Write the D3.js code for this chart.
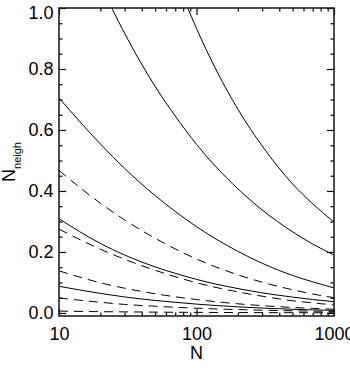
<!DOCTYPE html>
<html>
<head>
<meta charset="utf-8">
<script src="https://cdn.jsdelivr.net/npm/d3@7"></script>
<style>
  body { margin: 0; background: #fff; }
  svg { display: block; }
  text { font-family: "Liberation Sans", Arial, sans-serif; fill: #000; }
</style>
</head>
<body>
<div id="chart"></div>
<script>
// values (N on a log axis)
const nValues = [10, 20, 30, 50, 70, 100, 200, 300, 500, 700, 1000];

const solidA = [1.41, 1.079, 0.917, 0.743, 0.646, 0.553, 0.407, 0.338, 0.266, 0.226, 0.19];
const solidB = [2.64, 1.953, 1.628, 1.289, 1.103, 0.933, 0.668, 0.548, 0.423, 0.358, 0.298];
const solidC = [0.705, 0.554, 0.474, 0.385, 0.333, 0.283, 0.202, 0.163, 0.123, 0.102, 0.082];
const solidD = [0.309, 0.228, 0.19, 0.151, 0.13, 0.11, 0.08, 0.066, 0.052, 0.044, 0.037];
const solidE = [0.0875, 0.064, 0.0525, 0.041, 0.035, 0.029, 0.02, 0.016, 0.012, 0.010, 0.0084];

const dashA = [0.467, 0.36, 0.305, 0.245, 0.21, 0.177, 0.125, 0.101, 0.076, 0.062, 0.05];
const dashB = [0.275, 0.209, 0.176, 0.14, 0.119, 0.099, 0.069, 0.055, 0.04, 0.033, 0.026];
const dashC = [0.138, 0.099, 0.081, 0.063, 0.053, 0.044, 0.03, 0.024, 0.018, 0.015, 0.012];
const dashD = [0.049, 0.035, 0.028, 0.022, 0.0185, 0.0155, 0.011, 0.009, 0.007, 0.006, 0.005];
const dashE = [0.006, 0.0042, 0.0035, 0.0027, 0.0023, 0.0019, 0.0013, 0.0011, 0.0009, 0.0007, 0.0006];

const solidSeries = [solidA, solidB, solidC, solidD, solidE];
const dashSeries = [dashA, dashB, dashC, dashD, dashE];

const yMajor = [0, 0.2, 0.4, 0.6, 0.8, 1.0];
const xMajor = [10, 100, 1000];

// plot box
const margin = { top: 8, right: 16, bottom: 52, left: 59 };
const width = 350 - margin.left - margin.right;
const height = 368 - margin.top - margin.bottom;

const svg = d3.select("#chart")
  .append("svg")
  .attr("width", 350)
  .attr("height", 368);

const g = svg.append("g")
  .attr("transform", "translate(" + margin.left + "," + margin.top + ")");

const x = d3.scaleLog().domain([10, 1000]).range([0, width]);
const y = d3.scaleLinear().domain([-0.01, 1.0]).range([height, 0]);

g.append("clipPath").attr("id", "clip")
  .append("rect").attr("width", width).attr("height", height);

const line = d3.line()
  .x(function (d) { return x(d[0]); })
  .y(function (d) { return y(d[1]); })
  .curve(d3.curveMonotoneX);

const curves = g.append("g").attr("clip-path", "url(#clip)");

solidSeries.forEach(function (s) {
  curves.append("path")
    .datum(nValues.map(function (n, i) { return [n, s[i]]; }))
    .attr("d", line)
    .attr("fill", "none")
    .attr("stroke", "#000")
    .attr("stroke-width", 1);
});

dashSeries.forEach(function (s) {
  curves.append("path")
    .datum(nValues.map(function (n, i) { return [n, s[i]]; }))
    .attr("d", line)
    .attr("fill", "none")
    .attr("stroke", "#000")
    .attr("stroke-width", 1)
    .attr("stroke-dasharray", "9,6");
});

// minor tick values
const yMinor = d3.range(0, 1.001, 0.05).filter(function (v) {
  return Math.abs(v * 5 - Math.round(v * 5)) > 1e-6;
});
const xMinor = [20, 30, 40, 50, 60, 70, 80, 90, 200, 300, 400, 500, 600, 700, 800, 900];

function styleAxis(sel) {
  sel.select(".domain").remove();
  sel.selectAll("line").attr("stroke", "#000").attr("stroke-width", 1.2);
  sel.selectAll("text").attr("font-size", 18).attr("fill", "#000");
}

// left
const leftAxis = g.append("g")
  .call(d3.axisLeft(y).tickValues(yMajor).tickSize(-7).tickPadding(5.5).tickFormat(d3.format(".1f")))
  .call(styleAxis);
// the top label sits a little below its tick, as in the reference
leftAxis.selectAll("text").filter(function (d) { return d === 1.0; }).attr("y", 5);

g.append("g")
  .call(d3.axisLeft(y).tickValues(yMinor).tickSize(-3.5).tickFormat(""))
  .call(styleAxis);
// right
g.append("g").attr("transform", "translate(" + width + ",0)")
  .call(d3.axisRight(y).tickValues(yMajor).tickSize(-7).tickFormat(""))
  .call(styleAxis);
g.append("g").attr("transform", "translate(" + width + ",0)")
  .call(d3.axisRight(y).tickValues(yMinor).tickSize(-3.5).tickFormat(""))
  .call(styleAxis);
// bottom
g.append("g").attr("transform", "translate(0," + height + ")")
  .call(d3.axisBottom(x).tickValues(xMajor).tickSize(-7).tickPadding(11).tickFormat(d3.format("d")))
  .call(styleAxis);
g.append("g").attr("transform", "translate(0," + height + ")")
  .call(d3.axisBottom(x).tickValues(xMinor).tickSize(-3.5).tickFormat(""))
  .call(styleAxis);
// top
g.append("g")
  .call(d3.axisTop(x).tickValues(xMajor).tickSize(-7).tickFormat(""))
  .call(styleAxis);
g.append("g")
  .call(d3.axisTop(x).tickValues(xMinor).tickSize(-3.5).tickFormat(""))
  .call(styleAxis);

// frame
g.append("rect")
  .attr("width", width)
  .attr("height", height)
  .attr("fill", "none")
  .attr("stroke", "#222")
  .attr("stroke-width", 1.6);

// axis titles
svg.append("text")
  .attr("x", margin.left + width / 2)
  .attr("y", 359)
  .attr("text-anchor", "middle")
  .attr("font-size", 18)
  .text("N");

const yTitle = svg.append("text")
  .attr("transform", "translate(15," + (margin.top + height / 2) + ") rotate(-90)")
  .attr("text-anchor", "middle")
  .attr("font-size", 18);
yTitle.append("tspan").text("N");
yTitle.append("tspan").attr("font-size", 11).attr("dy", 6).text("neigh");
</script>
</body>
</html>
